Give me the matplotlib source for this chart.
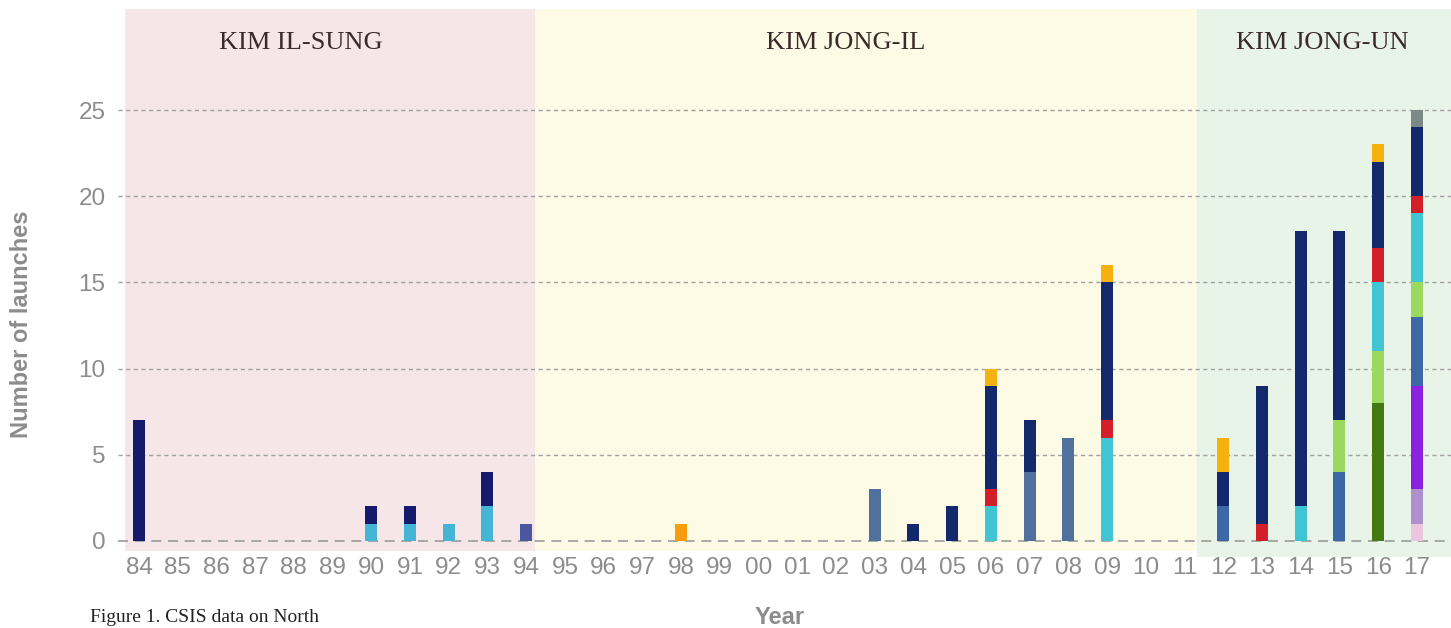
import matplotlib
matplotlib.use("Agg")
import matplotlib.pyplot as plt
import numpy as np
from matplotlib.patches import Rectangle

years = ['84', '85', '86', '87', '88', '89', '90', '91', '92', '93', '94', '95', '96', '97', '98', '99',
         '00', '01', '02', '03', '04', '05', '06', '07', '08', '09', '10', '11', '12', '13', '14', '15', '16', '17']

def series(d):
    return [d.get(y, 0) for y in years]

pink       = series({'17': 1})
lavender   = series({'17': 2})
purple     = series({'17': 6})
dkgreen    = series({'16': 8})
steel      = series({'03': 3, '07': 4, '08': 6})
blue       = series({'12': 2, '15': 4, '17': 4})
indigo     = series({'94': 1})
lgreen     = series({'15': 3, '16': 3, '17': 2})
skyblue    = series({'90': 1, '91': 1, '92': 1, '93': 2})
cyan       = series({'06': 2, '09': 6, '14': 2, '16': 4, '17': 4})
red        = series({'06': 1, '09': 1, '13': 1, '16': 2, '17': 1})
navy_early = series({'84': 7, '90': 1, '91': 1, '93': 2})
navy       = series({'04': 1, '05': 2, '06': 6, '07': 3, '09': 8, '12': 2, '13': 8, '14': 16, '15': 11, '16': 5, '17': 4})
orange     = series({'98': 1})
gold       = series({'06': 1, '09': 1, '12': 2, '16': 1})
gray       = series({'17': 1})

stack = [
    (pink, '#ecc6dc'), (lavender, '#b08fcf'), (purple, '#8a22e0'), (dkgreen, '#447811'),
    (steel, '#50709e'), (blue, '#3e67a8'), (indigo, '#4a56a0'), (lgreen, '#9ad85e'),
    (skyblue, '#45b5d6'), (cyan, '#42c5d3'), (red, '#d21f2a'), (navy_early, '#161a6c'),
    (navy, '#14296b'), (orange, '#f59d0c'), (gold, '#f5b20f'), (gray, '#7b8a87'),
]

eras = ['KIM IL-SUNG', 'KIM JONG-IL', 'KIM JONG-UN']
yticks = [0, 5, 10, 15, 20, 25]

W, H = 1451, 628
fig = plt.figure(figsize=(W / 100, H / 100), dpi=100)
ax = fig.add_axes([125 / W, (H - 557) / H, (W - 125) / W, (557 - 9) / H])
xl = (-0.36, 33.88)
yl = (-0.93, 30.86)
ax.set_xlim(*xl)
ax.set_ylim(*yl)

# era backgrounds
ax.add_patch(Rectangle((xl[0], -0.58), 10.22 - xl[0], yl[1] + 0.58, color='#f7e6e7', lw=0, zorder=0))
ax.add_patch(Rectangle((10.22, -0.58), 27.32 - 10.22, yl[1] + 0.58, color='#fdfbe5', lw=0, zorder=0))
ax.add_patch(Rectangle((27.32, yl[0]), xl[1] - 27.32, yl[1] - yl[0], color='#e8f4e7', lw=0, zorder=0))

# grid
for t in yticks:
    if t == 0:
        ax.plot([-0.55, xl[1]], [t, t], ls=(0, (6, 4)), color='#9a9a9a', lw=1.2, clip_on=False, zorder=1)
    else:
        ax.plot([-0.55, xl[1]], [t, t], ls=(0, (3, 2.5)), color='#a0a0a0', lw=1.0, clip_on=False, zorder=1)

x = np.arange(len(years))
bottom = np.zeros(len(years))
for vals, col in stack:
    v = np.array(vals, dtype=float)
    ax.bar(x, v, bottom=bottom, width=0.31, color=col, lw=0, zorder=2)
    bottom += v

ax.set_xticks(x)
ax.set_xticklabels(years)
ax.set_yticks(yticks)
ax.tick_params(axis='both', length=0, labelsize=17.5, labelcolor='#8c8c8c')
for lab in ax.get_xticklabels() + ax.get_yticklabels():
    lab.set_family('Liberation Sans')
ax.tick_params(axis='x', pad=0)
ax.tick_params(axis='y', pad=14)
for s in ax.spines.values():
    s.set_visible(False)
ax.set_facecolor('none')

# era labels
era_x = [301, 846, 1322]
for lab, px in zip(eras, era_x):
    fig.text(px / W, (H - 43) / H, lab, ha='center', va='center', family='Liberation Serif',
             fontsize=19, color='#3b2a2a')

fig.text(22 / W, (H - 324) / H, 'Number of launches', rotation=90, ha='center', va='center',
         family='Liberation Sans', fontsize=17, fontweight='bold', color='#8c8c8c')
fig.text(780 / W, (H - 617) / H, 'Year', ha='center', va='center', family='Liberation Sans',
         fontsize=17, fontweight='bold', color='#8c8c8c')
fig.text(90 / W, 2 / H, 'Figure 1. CSIS data on North', ha='left', va='bottom',
         family='Liberation Serif', fontsize=14, color='#222222')

fig.savefig('out.png', dpi=100)
